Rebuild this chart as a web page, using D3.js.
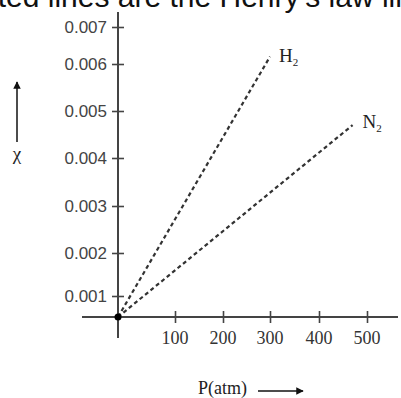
<!DOCTYPE html>
<html>
<head>
<meta charset="utf-8">
<script src="https://cdn.jsdelivr.net/npm/d3@7"></script>
<style>
  html, body { margin: 0; padding: 0; background: #fff; }
  svg { display: block; }
  .tick-y text { font-family: "Liberation Sans", Arial, sans-serif; font-size: 17px; fill: #444; }
  .tick-x text { font-family: "Liberation Serif", "Times New Roman", serif; font-size: 18px; fill: #333; }
  .serif { font-family: "Liberation Serif", "Times New Roman", serif; fill: #222; }
</style>
</head>
<body>
<div id="chart"></div>
<script>
// axis ticks as printed on the figure (the drawing is hand spaced, so the
// scales are piecewise between these tick positions)
const pressureTicks = [0, 100, 200, 300, 400, 500];
const chiTicks = [0, 0.001, 0.002, 0.003, 0.004, 0.005, 0.006, 0.007];
const pressurePixels = [118, 175, 223, 270, 319, 367];
const chiPixels = [317, 296, 253, 206, 158, 111, 64, 27];

// Henry's law lines: [P (atm), mole fraction]
const h2Line = [[0, 0], [300, 0.0062]];
const n2Line = [[0, 0], [470, 0.0047]];

const caption = "dotted lines are the Henry's law lines";

function renderChart() {
  const width = 401;
  const height = 398;
  const axisColor = "#444";

  const svg = d3.select("#chart").append("svg")
    .attr("width", width)
    .attr("height", height);

  const x = d3.scaleLinear().domain(pressureTicks).range(pressurePixels);
  const y = d3.scaleLinear().domain(chiTicks).range(chiPixels);

  svg.append("defs").append("marker")
    .attr("id", "arrow")
    .attr("viewBox", "0 0 10 10")
    .attr("refX", 9)
    .attr("refY", 5)
    .attr("markerWidth", 5)
    .attr("markerHeight", 5)
    .attr("orient", "auto")
    .append("path")
    .attr("d", "M0,0 L10,5 L0,10 z")
    .attr("fill", "#111");

  // caption line cut off by the top edge of the picture
  svg.append("text")
    .attr("x", -44)
    .attr("y", 7)
    .attr("font-family", "Liberation Sans, Arial, sans-serif")
    .attr("font-size", 30)
    .attr("fill", "#111")
    .text(caption);

  // axis lines
  svg.append("line")
    .attr("x1", 82).attr("x2", 398)
    .attr("y1", y(0)).attr("y2", y(0))
    .attr("stroke", axisColor).attr("stroke-width", 2);
  svg.append("line")
    .attr("x1", x(0)).attr("x2", x(0))
    .attr("y1", 12).attr("y2", 338)
    .attr("stroke", axisColor).attr("stroke-width", 2);

  svg.append("g")
    .attr("class", "tick-y")
    .attr("transform", `translate(${x(0) + 6}, 0)`)
    .call(d3.axisLeft(y).tickValues(chiTicks.slice(1)).tickSize(12).tickPadding(5).tickFormat(d3.format(".3f")))
    .call((g) => g.select(".domain").remove())
    .call((g) => g.selectAll("line").attr("stroke", axisColor).attr("stroke-width", 1.6));

  svg.append("g")
    .attr("class", "tick-x")
    .attr("transform", `translate(0, ${y(0) + 6})`)
    .call(d3.axisTop(x).tickValues(pressureTicks.slice(1)).tickSize(12).tickFormat(""))
    .call((g) => g.select(".domain").remove())
    .call((g) => g.selectAll("line").attr("stroke", axisColor).attr("stroke-width", 1.6));

  svg.append("g")
    .attr("class", "tick-x")
    .selectAll("text")
    .data(pressureTicks.slice(1))
    .join("text")
    .attr("x", (d) => x(d))
    .attr("y", 344)
    .attr("text-anchor", "middle")
    .text((d) => d);

  const line = d3.line().x((d) => x(d[0])).y((d) => y(d[1]));

  [h2Line, n2Line].forEach((pts) => {
    svg.append("path")
      .datum(pts)
      .attr("d", line)
      .attr("fill", "none")
      .attr("stroke", "#333")
      .attr("stroke-width", 2.2)
      .attr("stroke-dasharray", "4,3");
  });

  svg.append("circle")
    .attr("cx", x(0)).attr("cy", y(0)).attr("r", 3.5)
    .attr("fill", "#000");

  const h2End = h2Line[h2Line.length - 1];
  const n2End = n2Line[n2Line.length - 1];

  const h2Label = svg.append("text")
    .attr("class", "serif")
    .attr("x", x(h2End[0]) + 9)
    .attr("y", y(h2End[1]) + 5)
    .attr("font-size", 19);
  h2Label.append("tspan").text("H");
  h2Label.append("tspan").attr("font-size", 11).attr("dy", 4).text("2");

  const n2Label = svg.append("text")
    .attr("class", "serif")
    .attr("x", x(n2End[0]) + 10)
    .attr("y", y(n2End[1]) + 3)
    .attr("font-size", 19);
  n2Label.append("tspan").text("N");
  n2Label.append("tspan").attr("font-size", 11).attr("dy", 4).text("2");

  // y axis title with arrow
  svg.append("line")
    .attr("x1", 17).attr("x2", 17)
    .attr("y1", 142).attr("y2", 82)
    .attr("stroke", "#111").attr("stroke-width", 1.5)
    .attr("marker-end", "url(#arrow)");
  svg.append("text")
    .attr("class", "serif")
    .attr("x", 17)
    .attr("y", 160)
    .attr("text-anchor", "middle")
    .attr("font-size", 19)
    .text("χ");

  // x axis title with arrow
  svg.append("text")
    .attr("class", "serif")
    .attr("x", 198)
    .attr("y", 394)
    .attr("font-size", 18)
    .text("P(atm)");
  svg.append("line")
    .attr("x1", 258).attr("x2", 303)
    .attr("y1", 391).attr("y2", 391)
    .attr("stroke", "#111").attr("stroke-width", 1.5)
    .attr("marker-end", "url(#arrow)");
}

renderChart();
</script>
</body>
</html>
